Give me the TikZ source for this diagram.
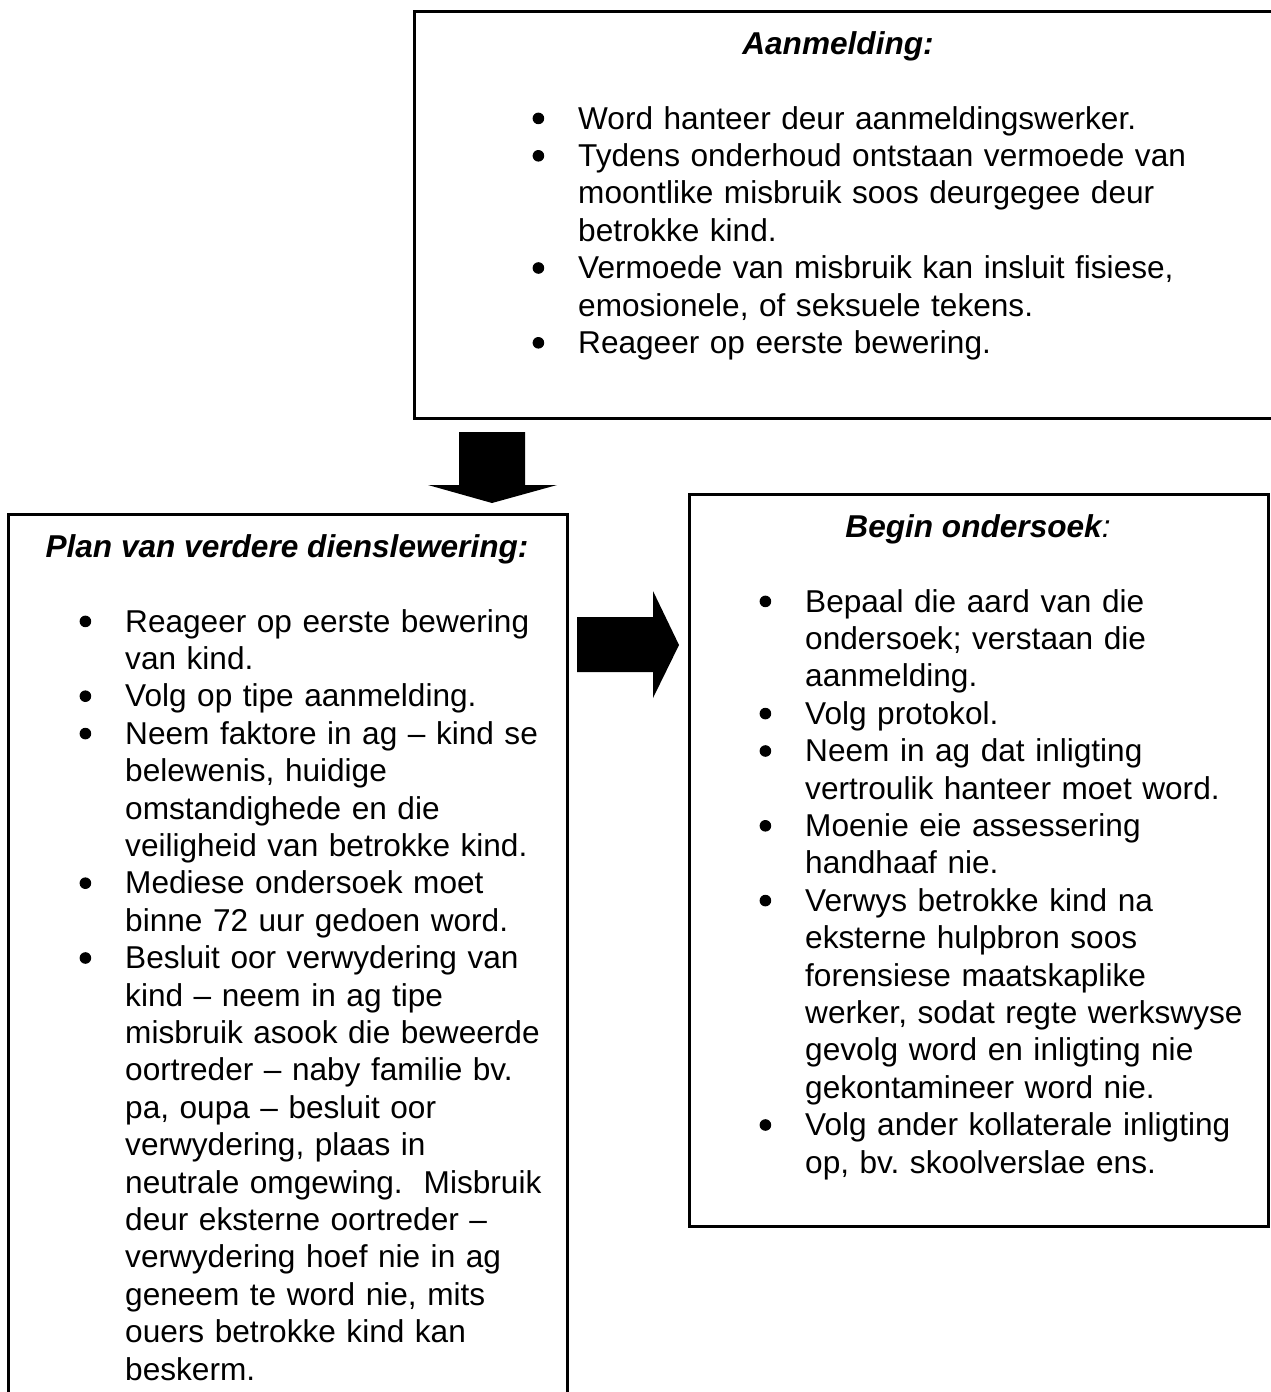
\documentclass[tikz,border=0pt]{standalone}
\usepackage{fontspec}
\setmainfont{Liberation Sans}
\newcommand{\bul}{\leavevmode\llap{\raisebox{4.8pt}{\tikz\path[fill=black, draw=none] (0,0) circle (5.8pt);}\hspace{34pt}}}
\tikzset{
  box/.style={draw, line width=2.5pt, inner sep=0pt, anchor=north west},
  txt/.style={anchor=base west, inner sep=0pt, align=left, text width=800pt,
              font=\fontsize{31.6}{37.4}\selectfont},
  ttl/.style={anchor=base, inner sep=0pt, font=\fontsize{31.6}{37.4}\selectfont},
  blk/.style={fill=black, draw=none}
}
\begin{document}
\begin{tikzpicture}[x=1pt, y=-1pt]
\useasboundingbox (0,0) rectangle (1270,1392);
% boxes
\node[box, minimum width=880pt, minimum height=407pt] (top) at (413,10) {};
\node[box, minimum width=559pt, minimum height=920pt] (left) at (7,513) {};
\node[box, minimum width=579pt, minimum height=732pt] (right) at (688,493) {};
% titles
\node[ttl] (ttop) at (838,54) {\bfseries\itshape Aanmelding:};
\node[ttl] (tleft) at (287,557) {\bfseries\itshape Plan van verdere dienslewering:};
\node[ttl] (tright) at (978,537) {{\bfseries\itshape Begin ondersoek}{\itshape :}};
% bullet texts
\node[txt] (btop) at (578,129) {%
\bul Word hanteer deur aanmeldingswerker.\\
\bul Tydens onderhoud ontstaan vermoede van\\
moontlike misbruik soos deurgegee deur\\
betrokke kind.\\
\bul Vermoede van misbruik kan insluit fisiese,\\
emosionele, of seksuele tekens.\\
\bul Reageer op eerste bewering.};
\node[txt] (bleft) at (125,632) {%
\bul Reageer op eerste bewering\\
van kind.\\
\bul Volg op tipe aanmelding.\\
\bul Neem faktore in ag – kind se\\
belewenis, huidige\\
omstandighede en die\\
veiligheid van betrokke kind.\\
\bul Mediese ondersoek moet\\
binne 72 uur gedoen word.\\
\bul Besluit oor verwydering van\\
kind – neem in ag tipe\\
misbruik asook die beweerde\\
oortreder – naby familie bv.\\
pa, oupa – besluit oor\\
verwydering, plaas in\\
neutrale omgewing.\ \ Misbruik\\
deur eksterne oortreder –\\
verwydering hoef nie in ag\\
geneem te word nie, mits\\
ouers betrokke kind kan\\
beskerm.};
\node[txt] (bright) at (805,612) {%
\bul Bepaal die aard van die\\
ondersoek; verstaan die\\
aanmelding.\\
\bul Volg protokol.\\
\bul Neem in ag dat inligting\\
vertroulik hanteer moet word.\\
\bul Moenie eie assessering\\
handhaaf nie.\\
\bul Verwys betrokke kind na\\
eksterne hulpbron soos\\
forensiese maatskaplike\\
werker, sodat regte werkswyse\\
gevolg word en inligting nie\\
gekontamineer word nie.\\
\bul Volg ander kollaterale inligting\\
op, bv.\ skoolverslae ens.};
% block arrows
\coordinate (dA) at (492,432);
\fill[blk] (dA) ++(-33,0) -- ++(66,0) -- ++(0,53) -- ++(32,0) -- (492,503) -- (428,485) -- ++(31,0) -- cycle;
\coordinate (rA) at (577,617);
\fill[blk] (rA) -- ++(76,0) -- ++(0,-26) -- (679,645) -- (653,698) -- ++(0,-26) -- (577,672) -- cycle;
\end{tikzpicture}
\end{document}
